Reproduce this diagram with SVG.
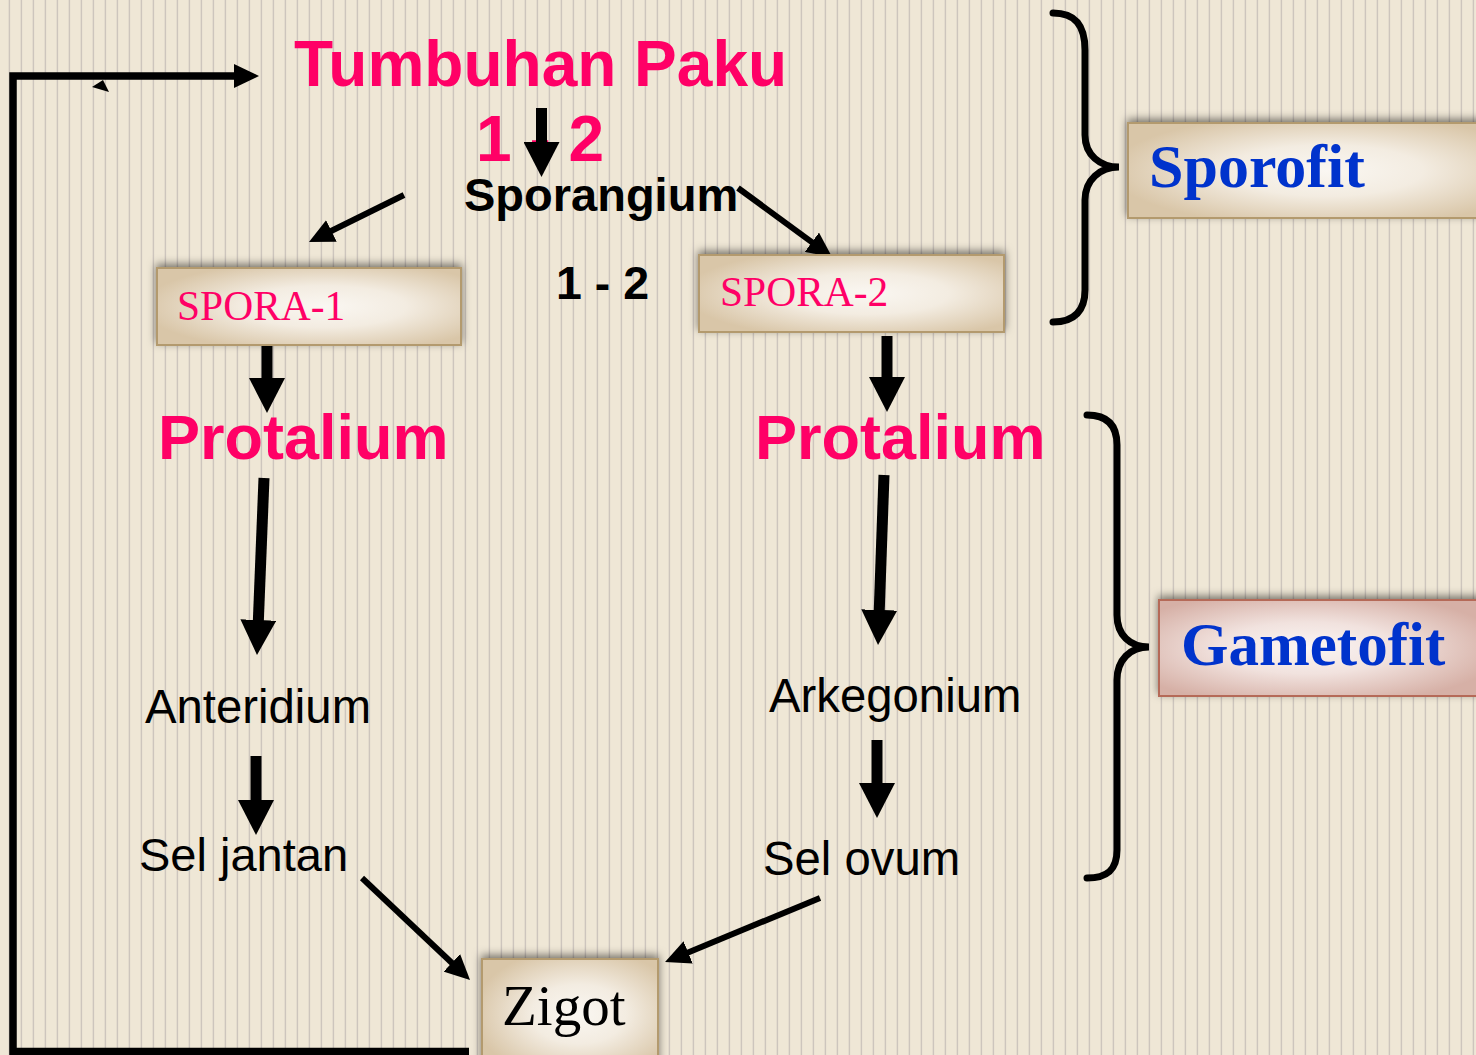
<svg xmlns="http://www.w3.org/2000/svg" width="1476" height="1055" viewBox="0 0 1476 1055">
<defs>
  <pattern id="bg" x="0" y="0" width="12" height="20" patternUnits="userSpaceOnUse">
    <rect width="12" height="20" fill="#efe7d6"/>
    <rect x="8.7" width="1.4" height="20" fill="#cdc5bd"/>
  </pattern>
  <radialGradient id="tanGrad" cx="55%" cy="50%" r="60%">
    <stop offset="0" stop-color="#faf7f2"/>
    <stop offset="0.45" stop-color="#f3ece1"/>
    <stop offset="1" stop-color="#d9c6a8"/>
  </radialGradient>
  <radialGradient id="pinkGrad" cx="45%" cy="50%" r="60%">
    <stop offset="0" stop-color="#fbf6f4"/>
    <stop offset="0.45" stop-color="#f1e2de"/>
    <stop offset="1" stop-color="#d6b0a6"/>
  </radialGradient>
  <filter id="shadow" x="-10%" y="-30%" width="120%" height="160%">
    <feDropShadow dx="0" dy="-3" stdDeviation="4" flood-color="#000" flood-opacity="0.5"/>
  </filter>
  <marker id="ahThin" markerUnits="userSpaceOnUse" markerWidth="26" markerHeight="24" refX="2" refY="12" orient="auto">
    <path d="M0,0 L25,12 L0,24 z" fill="#000"/>
  </marker>
  <marker id="ahThick" markerUnits="userSpaceOnUse" markerWidth="36" markerHeight="36" refX="2" refY="18" orient="auto">
    <path d="M0,0 L35,18 L0,36 z" fill="#000"/>
  </marker>
  <style>
    .sans { font-family: "Liberation Sans", Arial, sans-serif; }
    .serif { font-family: "Liberation Serif", "Times New Roman", serif; }
    .pinkB { fill: #ff0066; font-weight: bold; }
    .blackB { fill: #000; font-weight: bold; }
    .black { fill: #000; }
    .blueB { fill: #0033cc; font-weight: bold; }
    .tanBox { fill: url(#tanGrad); stroke: #b39a6e; stroke-width: 2; filter: url(#shadow); }
    .pinkBox { fill: url(#pinkGrad); stroke: #b56a58; stroke-width: 2; filter: url(#shadow); }
    .thin { stroke: #000; stroke-width: 6; fill: none; marker-end: url(#ahThin); }
    .thick { stroke: #000; stroke-width: 11; fill: none; marker-end: url(#ahThick); }
    .brace { stroke: #000; stroke-width: 7; fill: none; stroke-linecap: round; }
  </style>
</defs>

<rect width="1476" height="1055" fill="url(#bg)"/>

<g id="connectors">
  <polyline points="469,1051.5 13,1051.5 13,76 236,76" stroke="#000" stroke-width="7.5" fill="none" marker-end="url(#ahThin)"/>
  <polygon points="92,87 103,80 109,92" fill="#000"/>
  <line class="thin" x1="404" y1="195" x2="329.6" y2="231.8"/>
  <line class="thin" x1="738" y1="188" x2="813.5" y2="243.4"/>
  <line class="thick" x1="267" y1="346" x2="267" y2="380"/>
  <line class="thick" x1="887" y1="336" x2="887" y2="379"/>
  <line class="thick" stroke-width="10" x1="264" y1="478" x2="258.3" y2="622"/>
  <line class="thick" stroke-width="10" x1="884" y1="475" x2="879.2" y2="612"/>
  <line class="thick" x1="256" y1="756" x2="256" y2="802"/>
  <line class="thick" x1="877" y1="740" x2="877" y2="785"/>
  <line class="thin" x1="362" y1="878" x2="453.3" y2="964.2"/>
  <line class="thin" x1="820" y1="898" x2="686.3" y2="953.2"/>
</g>

<g id="tumbuhan-paku">
  <text class="sans pinkB" x="294" y="86" font-size="64">Tumbuhan Paku</text>
</g>

<g id="ratio-top">
  <text class="sans pinkB" x="476" y="161" font-size="64">1 - 2</text>
</g>

<g id="arrow-down-top">
  <line class="thick" x1="541.5" y1="108" x2="541.5" y2="144"/>
</g>

<g id="sporangium">
  <text class="sans blackB" x="464" y="211" font-size="47">Sporangium</text>
</g>

<g id="spora-1">
  <rect class="tanBox" x="157" y="268" width="304" height="77"/>
  <text class="serif" fill="#ff0066" x="177" y="320" font-size="41.5">SPORA-1</text>
</g>

<g id="ratio-mid">
  <text class="sans blackB" x="556" y="299" font-size="46.5">1 - 2</text>
</g>

<g id="spora-2">
  <rect class="tanBox" x="699" y="255" width="305" height="77"/>
  <text class="serif" fill="#ff0066" x="720" y="306" font-size="41.5">SPORA-2</text>
</g>

<g id="protalium-1">
  <text class="sans pinkB" x="158" y="459" font-size="63">Protalium</text>
</g>

<g id="protalium-2">
  <text class="sans pinkB" x="755" y="459" font-size="63">Protalium</text>
</g>

<g id="anteridium">
  <text class="sans black" x="145" y="723" font-size="47.3">Anteridium</text>
</g>

<g id="sel-jantan">
  <text class="sans black" x="139" y="871" font-size="47">Sel jantan</text>
</g>

<g id="arkegonium">
  <text class="sans black" x="769" y="712" font-size="47.3">Arkegonium</text>
</g>

<g id="sel-ovum">
  <text class="sans black" x="763" y="875" font-size="47.3">Sel ovum</text>
</g>

<g id="zigot">
  <rect class="tanBox" x="482" y="959" width="176" height="110"/>
  <text class="serif black" x="502" y="1025" font-size="57">Zigot</text>
</g>

<g id="sporofit">
  <path class="brace" d="M1053,13 C1075,13 1085,25 1085,50 L1085,135 C1085,155 1100,167 1119,167 C1100,167 1085,180 1085,200 L1085,290 C1085,310 1075,322 1053,322"/>
  <rect class="tanBox" x="1128" y="123" width="360" height="95"/>
  <text class="serif blueB" x="1149" y="187" font-size="62">Sporofit</text>
</g>

<g id="gametofit">
  <path class="brace" d="M1087,415 C1107,415 1117,425 1117,445 L1117,615 C1117,635 1130,647 1149,647 C1130,647 1117,660 1117,680 L1117,850 C1117,870 1107,878 1087,878"/>
  <rect class="pinkBox" x="1159" y="600" width="330" height="96"/>
  <text class="serif blueB" x="1181" y="665" font-size="61">Gametofit</text>
</g>
</svg>
